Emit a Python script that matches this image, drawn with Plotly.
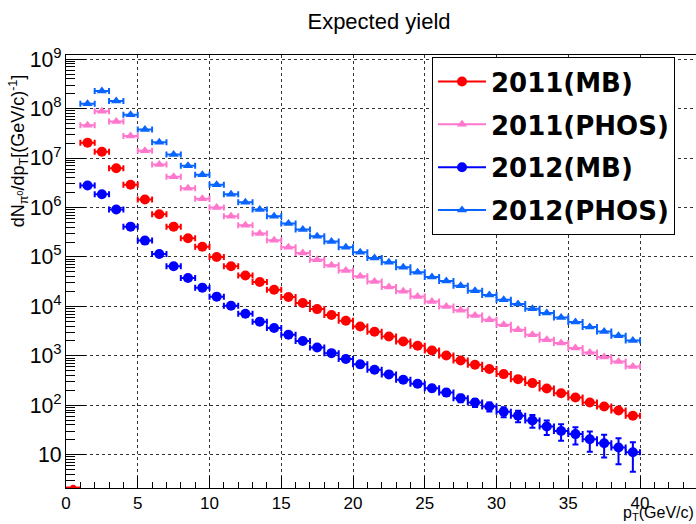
import plotly.graph_objects as go

# ---------------- data ----------------
pt = [1.5, 2.5, 3.5, 4.5, 5.5, 6.5, 7.5, 8.5, 9.5, 10.5, 11.5, 12.5, 13.5,
      14.5, 15.5, 16.5, 17.5, 18.5, 19.5, 20.5, 21.5, 22.5, 23.5, 24.5, 25.5, 26.5, 27.5,
      28.5, 29.5, 30.5, 31.5, 32.5, 33.5, 34.5, 35.5, 36.5, 37.5, 38.5, 39.5]

yield_2011_mb = [2.04e7, 1.34e7, 6.2e6, 2.88e6, 1.45e6, 7.3e5, 4.1e5, 2.38e5, 1.6e5, 1.0e5,
                 6.5e4, 4.2e4, 3.1e4, 2.17e4, 1.55e4, 1.17e4, 8.8e3, 6.7e3, 5.1e3, 3.9e3,
                 3.07e3, 2.46e3, 1.95e3, 1.6e3, 1.28e3, 1.01e3, 8.0e2, 6.6e2, 5.4e2, 4.26e2,
                 3.37e2, 2.8e2, 2.17e2, 1.75e2, 1.43e2, 1.13e2, 94, 78, 61]
err_2011_mb = [3162, 2562, 1743, 1188, 843, 598, 448, 341, 280, 221, 178, 143, 123, 103,
               87, 76, 66, 57, 50, 44, 39, 35, 31, 28, 25, 22, 20, 18, 16, 14, 13, 12, 10,
               9.3, 8.4, 7.4, 6.8, 6.2, 5.5]

yield_2011_phos = [4.6e7, 8.8e7, 5.5e7, 2.8e7, 1.4e7, 7.4e6, 4.2e6, 2.45e6, 1.5e6, 1.0e6,
                   6.65e5, 4.37e5, 2.97e5, 2.17e5, 1.57e5, 1.2e5, 8.8e4, 6.8e4, 5.3e4, 4.05e4,
                   3.2e4, 2.46e4, 2.01e4, 1.59e4, 1.26e4, 9.98e3, 8.3e3, 6.56e3, 5.37e3, 4.25e3,
                   3.37e3, 2.67e3, 2.11e3, 1.81e3, 1.43e3, 1.17e3, 9.4e2, 7.7e2, 6.1e2]

yield_2012_mb = [2.79e6, 1.85e6, 9.1e5, 4.1e5, 2.14e5, 1.15e5, 6.5e4, 3.75e4, 2.39e4, 1.57e4,
                 1.03e4, 7.1e3, 4.9e3, 3.64e3, 2.67e3, 1.99e3, 1.47e3, 1.13e3, 8.6e2, 6.7e2,
                 5.2e2, 4.2e2, 3.27e2, 2.71e2, 2.21e2, 1.8e2, 1.39e2, 1.13e2, 94, 74,
                 61, 49, 37, 30, 26, 20.5, 17, 13.9, 11.2]
err_2012_mb = [3341, 2720, 1908, 1281, 925, 678, 510, 387, 309, 251, 203, 169, 140, 121,
               103, 89, 77, 67, 59, 52, 46, 41, 36, 33, 30, 27, 24, 21, 19, 17, 16, 14, 12,
               11, 10, 9, 8.2, 7.5, 6.7]

yield_2012_phos = [1.26e8, 2.27e8, 1.42e8, 7.5e7, 3.8e7, 2.1e7, 1.18e7, 7.0e6, 4.6e6, 2.88e6,
                   1.85e6, 1.28e6, 9.1e5, 6.65e5, 4.73e5, 3.57e5, 2.62e5, 2.04e5, 1.57e5, 1.24e5,
                   9.5e4, 7.8e4, 6.2e4, 4.88e4, 3.93e4, 3.26e4, 2.62e4, 2.07e4, 1.7e4, 1.36e4,
                   1.12e4, 8.97e3, 7.3e3, 5.97e3, 4.82e3, 3.82e3, 3.1e3, 2.54e3, 2.04e3]

# first bin (0-1 GeV/c) sits at the bottom of the frame
first_bin_pt = [0.5]
first_bin_yield = [2.15]

bin_half_width = 0.5

series = [
    ("2011(MB)", yield_2011_mb, err_2011_mb, "#ff0000", "circle", 10),
    ("2011(PHOS)", yield_2011_phos, None, "#ff77cc", "triangle-up", 9),
    ("2012(MB)", yield_2012_mb, err_2012_mb, "#0000ff", "circle", 10),
    ("2012(PHOS)", yield_2012_phos, None, "#0a64ff", "triangle-up", 9),
]

FONT = "Liberation Sans, Arial, Helvetica, sans-serif"
LEGEND_FONT = "DejaVu Sans, Liberation Sans, Arial, sans-serif"

fig = go.Figure()

# low bin markers at bottom (pink behind, red in front)
for name, col, sym in [("2011(PHOS)", "#ff77cc", "triangle-up"), ("2011(MB)", "#ff0000", "circle")]:
    fig.add_trace(go.Scatter(
        x=first_bin_pt, y=first_bin_yield, mode="markers", showlegend=False,
        marker=dict(color=col, size=6, symbol=sym),
        error_x=dict(type="constant", value=bin_half_width, color=col, thickness=2, width=0),
        hoverinfo="skip"))

for name, ys, errs, col, sym, size in series:
    ey = dict(type="data", array=errs, color=col, thickness=2, width=3, visible=True) if errs else dict(visible=False)
    fig.add_trace(go.Scatter(
        x=pt, y=ys, mode="markers", name=name, showlegend=False, legendgroup=name,
        marker=dict(color=col, size=size, symbol=sym, line=dict(width=0)),
        error_x=dict(type="constant", value=bin_half_width, color=col, thickness=2, width=3),
        error_y=ey))

# legend entries (line + marker like ROOT "lp")
for name, ys, errs, col, sym, size in series:
    fig.add_trace(go.Scatter(
        x=[None], y=[None], mode="lines+markers", name="<b>" + name + "</b>",
        legendgroup=name, showlegend=True,
        line=dict(color=col, width=2),
        marker=dict(color=col, size=size, symbol=sym)))

fig.update_layout(
    width=696, height=524,
    margin=dict(l=66, r=0, t=55, b=36),
    paper_bgcolor="white", plot_bgcolor="white",
    font=dict(family=FONT, color="black", size=17),
    title=dict(text="Expected yield", x=379 / 696, xref="container", xanchor="center",
               y=1 - 21 / 524, yanchor="middle", font=dict(size=22, family=FONT)),
    showlegend=True,
    legend=dict(x=(432 - 66) / 630, y=0.995, xanchor="left", yanchor="top",
                bgcolor="white", bordercolor="black", borderwidth=1,
                font=dict(size=26, family=LEGEND_FONT, color="black"),
                tracegroupgap=6, itemwidth=48),
)

fig.update_xaxes(
    range=[0, 43.9], tick0=0, dtick=5,
    ticks="inside", ticklen=12, tickcolor="black", tickwidth=1,
    minor=dict(ticks="inside", ticklen=6, dtick=1, tickcolor="black", showgrid=False),
    showgrid=True, gridcolor="#333333", griddash="dot", gridwidth=1,
    showline=True, linecolor="black", linewidth=1, mirror=True,
    zeroline=False, tickfont=dict(size=17),
)

fig.update_yaxes(
    type="log", range=[0.325, 9.085], dtick=1, exponentformat="power",
    ticks="inside", ticklen=20, tickcolor="black", tickwidth=1,
    minor=dict(ticks="inside", ticklen=9, tickcolor="black", showgrid=False),
    showgrid=True, gridcolor="#333333", griddash="dot", gridwidth=1,
    showline=True, linecolor="black", linewidth=1,
    zeroline=False, tickfont=dict(size=17),
)

# axis titles (ROOT style: aligned to the axis ends)
fig.add_annotation(
    text="dN<sub>π<sup>0</sup></sub>/dp<sub>T</sub>[(GeV/c)<sup>-1</sup>]",
    xref="paper", yref="paper", x=-(66 - 18) / 630, y=(488 - 151) / 432,
    xanchor="center", yanchor="middle", textangle=-90, showarrow=False,
    font=dict(size=18, family=FONT))
fig.add_annotation(
    text="p<sub>T</sub>(GeV/c)",
    xref="paper", yref="paper", x=1.0, y=-(513 - 488) / 432,
    xanchor="right", yanchor="middle", showarrow=False,
    font=dict(size=16, family=FONT))

fig.write_html("out.html")
